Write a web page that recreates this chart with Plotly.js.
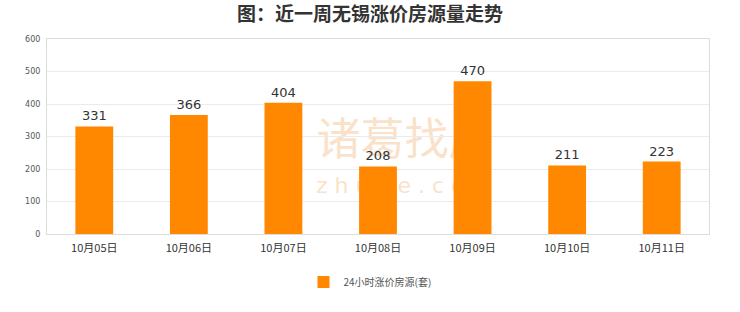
<!DOCTYPE html>
<html>
<head>
<meta charset="utf-8">
<script src="https://cdn.plot.ly/plotly-3.0.1.min.js"></script>
<style>
  html, body { margin: 0; padding: 0; background: #fff; }
  #chart { width: 740px; height: 312px; }
</style>
</head>
<body>
<div id="chart"></div>
<script>
// Daily count of listings with a price increase, Wuxi, last seven days
const dates = ['10月05日', '10月06日', '10月07日', '10月08日', '10月09日', '10月10日', '10月11日'];
const raisedListings = [331, 366, 404, 208, 470, 211, 223];
const seriesName = '24小时涨价房源(套)';
const yTicks = [0, 100, 200, 300, 400, 500, 600];

const cjk = '"Noto Sans CJK SC", "Noto Sans", sans-serif';
const watermarkColor = 'rgba(244,196,150,0.5)';

const trace = {
  type: 'bar',
  x: dates,
  y: raisedListings,
  name: seriesName,
  text: raisedListings.map(String),
  textposition: 'outside',
  cliponaxis: false,
  textfont: { family: 'DejaVu Sans, sans-serif', size: 13, color: '#333' },
  marker: { color: '#FF8800', line: { width: 0 } },
  width: 0.4,
  showlegend: true
};

// Brand watermark sits beneath the bars
function watermark(text, y0, y1, font) {
  return {
    type: 'rect', layer: 'below',
    xref: 'paper', yref: 'paper',
    x0: 0.32, x1: 0.76, y0: y0, y1: y1,
    line: { width: 0 }, fillcolor: 'rgba(0,0,0,0)',
    label: { text: text, font: font, textposition: 'middle center' }
  };
}

const layout = {
  width: 740,
  height: 312,
  margin: { l: 47, r: 31, t: 39, b: 78, autoexpand: false },
  paper_bgcolor: '#fff',
  plot_bgcolor: '#fff',
  title: {
    text: '<b>图：近一周无锡涨价房源量走势</b>',
    font: { family: cjk, size: 19, color: '#333' },
    x: 0.5, xanchor: 'center',
    y: 0.955, yanchor: 'middle'
  },
  xaxis: {
    type: 'category',
    showline: true, linecolor: '#ddd', linewidth: 1, mirror: true,
    showgrid: false,
    ticks: '',
    ticklabelstandoff: 4,
    tickfont: { family: cjk, size: 11, color: '#333' },
    fixedrange: true
  },
  yaxis: {
    range: [0, 600],
    tickvals: yTicks,
    ticktext: yTicks.map(String),
    showline: true, linecolor: '#ddd', linewidth: 1, mirror: true,
    showgrid: true, gridcolor: '#ebebeb', gridwidth: 1,
    zeroline: false,
    ticks: '',
    ticklabelstandoff: 4,
    tickfont: { family: 'DejaVu Sans, sans-serif', size: 8, color: '#555' },
    fixedrange: true
  },
  legend: {
    orientation: 'h',
    xref: 'container', yref: 'container',
    x: 0.5, xanchor: 'center',
    y: 0.096, yanchor: 'middle',
    font: { family: cjk, size: 10, color: '#555' },
    itemwidth: 30
  },
  shapes: [
    watermark('诸葛找房', 0.35, 0.58, { family: cjk, size: 44, color: watermarkColor }),
    watermark('z h u g e . c o m', 0.18, 0.34, { family: 'DejaVu Sans, sans-serif', size: 22, color: watermarkColor })
  ],
  bargap: 0.6
};

Plotly.newPlot('chart', [trace], layout, { displayModeBar: false, staticPlot: true });
</script>
</body>
</html>
